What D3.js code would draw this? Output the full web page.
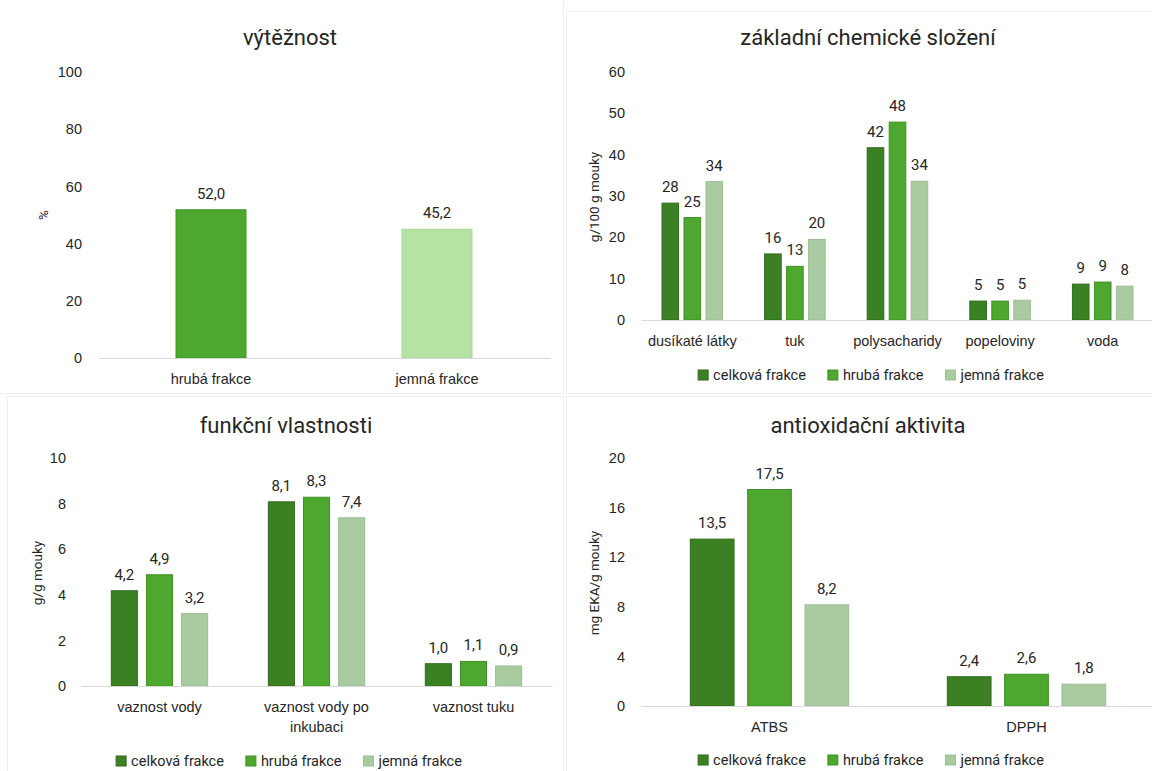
<!DOCTYPE html>
<html lang="cs">
<head>
<meta charset="utf-8">
<title>Charakterizace frakcí mouky</title>
<script src="https://cdn.jsdelivr.net/npm/d3@7"></script>
<style>
  html, body { margin: 0; padding: 0; background: #ffffff; }
  svg { display: block; font-family: Roboto, "Noto Sans", sans-serif; }
</style>
</head>
<body>
<script>
// ---- data ----
const seriesNames = ["celková frakce", "hrubá frakce", "jemná frakce"];

const yieldCategories = ["hrubá frakce", "jemná frakce"];
const yieldValues = [52.0, 45.2];
const yieldTicks = [0, 20, 40, 60, 80, 100];

const compCategories = ["dusíkaté látky", "tuk", "polysacharidy", "popeloviny", "voda"];
const compCelkova = [28.4, 16.1, 41.8, 4.7, 8.8];
const compHruba   = [24.9, 13.1, 48.0, 4.7, 9.3];
const compJemna   = [33.6, 19.6, 33.7, 4.9, 8.3];
const compTicks = [0, 10, 20, 30, 40, 50, 60];

const funcCategories = ["vaznost vody", "vaznost vody po inkubaci", "vaznost tuku"];
const funcCelkova = [4.2, 8.1, 1.0];
const funcHruba   = [4.9, 8.3, 1.1];
const funcJemna   = [3.2, 7.4, 0.9];
const funcTicks = [0, 2, 4, 6, 8, 10];

const antiCategories = ["ATBS", "DPPH"];
const antiCelkova = [13.5, 2.4];
const antiHruba   = [17.5, 2.6];
const antiJemna   = [8.2, 1.8];
const antiTicks = [0, 4, 8, 12, 16, 20];

// ---- styling ----
const seriesFill   = ["#3b8023", "#4ea72e", "#aacaa1"];
const seriesStroke = ["#2f6b1b", "#3f9023", "#9cbf92"];
const yieldFill   = ["#4ea72e", "#b4e3a3"];
const yieldStroke = ["#3f9023", "#a5d993"];
const textColor = "#262626";
const axisColor = "#d9d9d9";
const tickSize = 14.5, labelSize = 15, legendSize = 14.5, titleSize = 22;

const cz = d3.formatLocale({ decimal: ",", thousands: " ", grouping: [3], currency: ["", " Kč"] });
const fmt1 = cz.format(".1f");
const fmt0 = cz.format(".0f");

const W = 1152, H = 771;
const svg = d3.select("body").append("svg").attr("width", W).attr("height", H);

// faint frames round each chart area
const frames = [
  [-2, -2, 565, 395], [566, 11, 590, 382],
  [7, 396, 556, 380], [566, 396, 590, 380]
];
svg.selectAll("rect.frame").data(frames).join("rect")
  .attr("class", "frame")
  .attr("x", d => d[0] + 0.5).attr("y", d => d[1] + 0.5)
  .attr("width", d => d[2]).attr("height", d => d[3])
  .attr("fill", "none").attr("stroke", "#f0f0f0");

// break long category names onto several lines
function wrapText(textSel, maxWidth) {
  textSel.each(function () {
    const t = d3.select(this);
    const words = t.text().split(/\s+/);
    const y = t.attr("y");
    t.text(null);
    let line = [];
    let lineNo = 0;
    let tspan = t.append("tspan").attr("x", 0).attr("y", y).attr("dy", "0.71em");
    for (const w of words) {
      line.push(w);
      tspan.text(line.join(" "));
      if (tspan.node().getComputedTextLength() > maxWidth && line.length > 1) {
        line.pop();
        tspan.text(line.join(" "));
        line = [w];
        lineNo++;
        tspan = t.append("tspan").attr("x", 0).attr("y", y)
          .attr("dy", (0.71 + lineNo * 1.35) + "em").text(w);
      }
    }
  });
}

function drawChart(cfg) {
  const g = svg.append("g");

  // title
  g.append("text")
    .attr("x", cfg.titleX).attr("y", cfg.titleY)
    .attr("text-anchor", "middle")
    .attr("font-size", titleSize).attr("fill", textColor)
    .text(cfg.title);

  const y = d3.scaleLinear().domain([0, cfg.yMax]).range([cfg.yBottom, cfg.yTop]);
  const x = d3.scaleBand().domain(cfg.categories).range([cfg.x0, cfg.x1]).padding(0);

  // value axis
  const yAxis = d3.axisLeft(y).tickValues(cfg.ticks).tickSize(0)
    .tickPadding(cfg.x0 - cfg.tickRight).tickFormat(d3.format("d"));
  const ya = g.append("g").attr("transform", `translate(${cfg.x0},0)`).call(yAxis);
  ya.select(".domain").remove();
  ya.selectAll("text").attr("font-size", tickSize).attr("fill", textColor).attr("font-family", null);

  // axis title
  g.append("text")
    .attr("transform", `translate(${cfg.yLabelX},${cfg.yLabelY}) rotate(-90)`)
    .attr("text-anchor", "middle").attr("dy", "0.35em")
    .attr("font-size", 13.5).attr("fill", textColor)
    .text(cfg.yLabel);

  // bars
  const groupWidth = x.bandwidth() * cfg.groupFrac;
  const inner = d3.scaleBand().domain(d3.range(cfg.series.length))
    .range([0, groupWidth]).paddingInner(cfg.innerPad).paddingOuter(0);

  cfg.series.forEach((s, si) => {
    const bars = g.append("g");
    s.values.forEach((v, ci) => {
      const cat = cfg.categories[ci];
      const bx = x(cat) + (x.bandwidth() - groupWidth) / 2 + inner(si);
      bars.append("rect")
        .attr("x", bx + 0.5).attr("y", y(v) + 0.5)
        .attr("width", inner.bandwidth() - 1)
        .attr("height", y(0) - y(v) - 0.5)
        .attr("fill", s.fill(ci)).attr("stroke", s.stroke(ci)).attr("stroke-width", 1);
      bars.append("text")
        .attr("x", bx + inner.bandwidth() / 2).attr("y", y(v) - 10.5)
        .attr("text-anchor", "middle")
        .attr("font-size", labelSize).attr("fill", textColor)
        .text(cfg.labelFormat(v));
    });
  });

  // category axis
  const xAxis = d3.axisBottom(x).tickSize(0).tickPadding(16);
  const xa = g.append("g").attr("transform", `translate(0,${cfg.yBottom})`).call(xAxis);
  xa.select(".domain").attr("stroke", axisColor).attr("stroke-width", 1.2);
  xa.selectAll("text").attr("font-size", tickSize).attr("fill", textColor).attr("font-family", null);
  if (cfg.wrap) xa.selectAll(".tick text").call(wrapText, x.bandwidth() - 20);

  // legend
  if (cfg.legendY) {
    const lg = g.append("g");
    const items = lg.selectAll("g").data(seriesNames).join("g");
    items.append("rect").attr("width", 10).attr("height", 10).attr("y", -10)
      .attr("fill", (d, i) => seriesFill[i]).attr("stroke", (d, i) => seriesStroke[i]);
    items.append("text").attr("x", 15).attr("font-size", legendSize).attr("fill", textColor).text(d => d);
    let cursor = 0;
    items.each(function () {
      const item = d3.select(this);
      item.attr("transform", `translate(${cursor},0)`);
      cursor += 15 + item.select("text").node().getComputedTextLength() + 22;
    });
    const total = cursor - 22;
    lg.attr("transform", `translate(${cfg.legendX - total / 2},${cfg.legendY})`);
  }
}

const groupedSeries = (vals) => vals.map((values, i) => ({
  values, fill: () => seriesFill[i], stroke: () => seriesStroke[i]
}));

drawChart({
  title: "výtěžnost", titleX: 290, titleY: 45,
  categories: yieldCategories,
  series: [{ values: yieldValues, fill: ci => yieldFill[ci], stroke: ci => yieldStroke[ci] }],
  yMax: 100, ticks: yieldTicks, yTop: 72, yBottom: 358,
  x0: 98, x1: 550, tickRight: 82,
  yLabel: "%", yLabelX: 43, yLabelY: 215,
  groupFrac: 0.314, innerPad: 0,
  labelFormat: fmt1
});

drawChart({
  title: "základní chemické složení", titleX: 868, titleY: 45,
  categories: compCategories,
  series: groupedSeries([compCelkova, compHruba, compJemna]),
  yMax: 60, ticks: compTicks, yTop: 72, yBottom: 320,
  x0: 641, x1: 1154, tickRight: 625,
  yLabel: "g/100 g mouky", yLabelX: 594, yLabelY: 197,
  groupFrac: 0.60, innerPad: 0.2,
  labelFormat: fmt0,
  legendX: 871, legendY: 380
});

drawChart({
  title: "funkční vlastnosti", titleX: 286, titleY: 433,
  categories: funcCategories,
  series: groupedSeries([funcCelkova, funcHruba, funcJemna]),
  yMax: 10, ticks: funcTicks, yTop: 458, yBottom: 686,
  x0: 81, x1: 552, tickRight: 66,
  yLabel: "g/g mouky", yLabelX: 37, yLabelY: 573,
  groupFrac: 0.62, innerPad: 0.23,
  labelFormat: fmt1, wrap: true,
  legendX: 289, legendY: 766
});

drawChart({
  title: "antioxidační aktivita", titleX: 868, titleY: 433,
  categories: antiCategories,
  series: groupedSeries([antiCelkova, antiHruba, antiJemna]),
  yMax: 20, ticks: antiTicks, yTop: 458, yBottom: 706,
  x0: 641, x1: 1155, tickRight: 625,
  yLabel: "mg EKA/g mouky", yLabelX: 594, yLabelY: 583,
  groupFrac: 0.62, innerPad: 0.22,
  labelFormat: fmt1,
  legendX: 871, legendY: 765
});
</script>
</body>
</html>
